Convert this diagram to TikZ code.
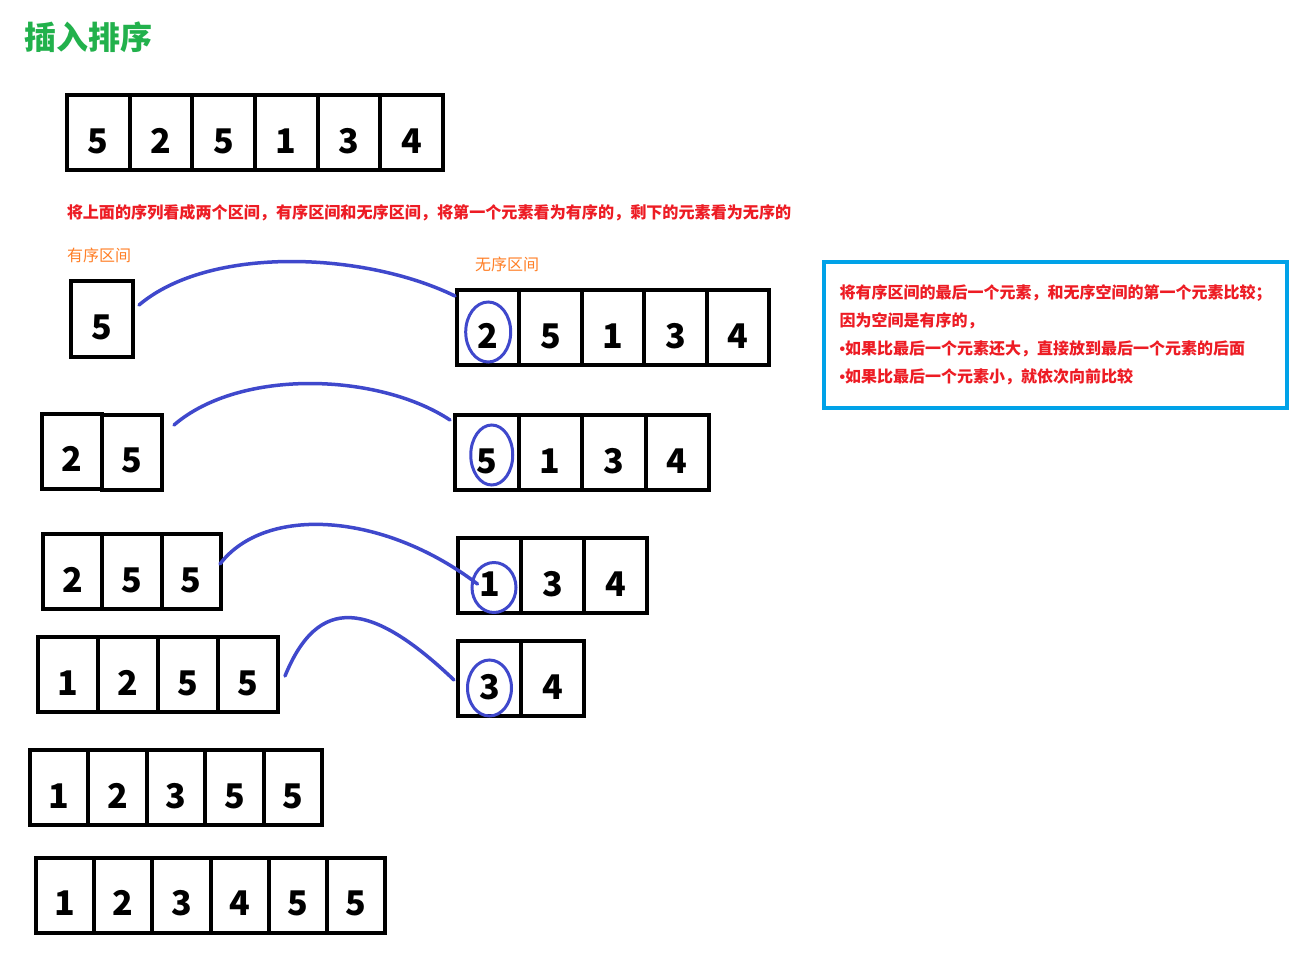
\documentclass[tikz,border=0pt]{standalone}
\usepackage{fontspec}
\newfontfamily\cjk{Noto Sans CJK SC}
\newfontfamily\latinsans{Liberation Sans}
\usetikzlibrary{shapes.geometric}
\definecolor{titlegreen}{RGB}{34,177,76}
\definecolor{notered}{RGB}{237,28,36}
\definecolor{labelorange}{RGB}{255,127,39}
\definecolor{boxblue}{RGB}{0,162,232}
\definecolor{markblue}{RGB}{63,72,204}
\newcommand{\dotmark}{{\latinsans\bfseries •}}
\begin{document}
\begin{tikzpicture}[x=1pt, y=-1pt,
  cell/.style={rectangle, draw, line width=4pt, minimum width=62pt, minimum height=75pt, inner sep=0pt, text height=41pt, text depth=0pt, font=\cjk\bfseries\fontsize{34}{34}\selectfont},
  ring/.style={ellipse, draw=markblue, line width=3pt, inner sep=0pt, minimum width=44pt, minimum height=58pt},
  link/.style={markblue, line width=3.5pt, line cap=round},
  title/.style={text=titlegreen, font=\cjk\bfseries\fontsize{32}{32}\selectfont, inner sep=0pt},
  remark/.style={text=notered, font=\cjk\bfseries\fontsize{16.1}{16.1}\selectfont, inner sep=0pt},
  tag/.style={text=labelorange, font=\cjk\fontsize{16}{16}\selectfont, inner sep=0pt},
  note/.style={rectangle, draw=boxblue, line width=4pt, minimum width=463pt, minimum height=146pt, text width=432pt, align=left, text=notered, font=\cjk\bfseries\fontsize{16}{28}\selectfont}
]
\fill[white] (0,0) rectangle (1307,978);
\useasboundingbox (0,0) rectangle (1307,978);

% Title and texts
\node[title, anchor=west] (title) at (24,37) {插入排序};
\node[remark] (intro) at (429,213) {将上面的序列看成两个区间，有序区间和无序区间，将第一个元素看为有序的，剩下的元素看为无序的};
\node[tag] (sortedtag) at (99,255) {有序区间};
\node[tag] (unsortedtag) at (507,264) {无序区间};
\node[note] (rule) at (1055.5,335) {将有序区间的最后一个元素，和无序空间的第一个元素比较；\\因为空间是有序的，\\\dotmark 如果比最后一个元素还大，直接放到最后一个元素的后面\\\dotmark 如果比最后一个元素小，就依次向前比较};

% Input sequence
\node[cell, minimum width=62.7pt] (a1) at (98.3,132.5) {5};
\node[cell, minimum width=62.7pt] (a2) at (161,132.5) {2};
\node[cell, minimum width=62.7pt] (a3) at (223.7,132.5) {5};
\node[cell, minimum width=62.7pt] (a4) at (286.3,132.5) {1};
\node[cell, minimum width=62.7pt] (a5) at (349,132.5) {3};
\node[cell, minimum width=62.7pt] (a6) at (411.7,132.5) {4};

% Step 1
\node[cell, minimum height=76pt] (s1a) at (102,319) {5};
\node[cell, minimum width=62.4pt] (u1a) at (488.2,327.5) {2};
\node[cell, minimum width=62.4pt] (u1b) at (550.6,327.5) {5};
\node[cell, minimum width=62.4pt] (u1c) at (613,327.5) {1};
\node[cell, minimum width=62.4pt] (u1d) at (675.4,327.5) {3};
\node[cell, minimum width=62.4pt] (u1e) at (737.8,327.5) {4};
\node[ring, minimum width=45pt, minimum height=60pt, yshift=-4.5pt] (c1) at (u1a) {};

% Step 2
\node[cell, minimum width=60pt] (s2a) at (72,451) {2};
\node[cell, minimum width=60pt] (s2b) at (132,452) {5};
\node[cell, minimum width=63.5pt] (u2a) at (486.75,452.5) {5};
\node[cell, minimum width=63.5pt] (u2b) at (550.25,452.5) {1};
\node[cell, minimum width=63.5pt] (u2c) at (613.75,452.5) {3};
\node[cell, minimum width=63.5pt] (u2d) at (677.25,452.5) {4};
\node[ring, minimum width=42pt, minimum height=60pt, xshift=5pt, yshift=-2.5pt] (c2) at (u2a) {};

% Step 3
\node[cell, minimum width=59.3pt] (s3a) at (72.7,571.5) {2};
\node[cell, minimum width=59.3pt] (s3b) at (132,571.5) {5};
\node[cell, minimum width=59.3pt] (s3c) at (191.3,571.5) {5};
\node[cell, minimum width=63pt] (u3a) at (489.5,575.5) {1};
\node[cell, minimum width=63pt] (u3b) at (552.5,575.5) {3};
\node[cell, minimum width=63pt] (u3c) at (615.5,575.5) {4};
\node[ring, minimum width=44pt, minimum height=50pt, xshift=4.5pt, yshift=-12pt] (c3) at (u3a) {};

% Step 4
\node[cell, minimum width=60pt] (s4a) at (68,674.5) {1};
\node[cell, minimum width=60pt] (s4b) at (128,674.5) {2};
\node[cell, minimum width=60pt] (s4c) at (188,674.5) {5};
\node[cell, minimum width=60pt] (s4d) at (248,674.5) {5};
\node[cell, minimum width=63pt] (u4a) at (489.5,678.5) {3};
\node[cell, minimum width=63pt] (u4b) at (552.5,678.5) {4};
\node[ring, minimum width=44pt, minimum height=56pt, yshift=-9.5pt] (c4) at (u4a) {};

% Step 5
\node[cell, minimum width=58.4pt] (s5a) at (59.2,787.5) {1};
\node[cell, minimum width=58.4pt] (s5b) at (117.6,787.5) {2};
\node[cell, minimum width=58.4pt] (s5c) at (176,787.5) {3};
\node[cell, minimum width=58.4pt] (s5d) at (234.4,787.5) {5};
\node[cell, minimum width=58.4pt] (s5e) at (292.8,787.5) {5};

% Result
\node[cell, minimum width=58.2pt] (s6a) at (65.1,895) {1};
\node[cell, minimum width=58.2pt] (s6b) at (123.3,895) {2};
\node[cell, minimum width=58.2pt] (s6c) at (181.5,895) {3};
\node[cell, minimum width=58.2pt] (s6d) at (239.7,895) {4};
\node[cell, minimum width=58.2pt] (s6e) at (297.9,895) {5};
\node[cell, minimum width=58.2pt] (s6f) at (356.1,895) {5};

% Curves
\draw[link] ([xshift=4pt,yshift=14pt]s1a.east) .. controls (210,245) and (365,252) .. ([yshift=-8pt]u1a.north west);
\draw[link] ([xshift=10pt,yshift=27pt]s2b.east) .. controls (240,368) and (379,373) .. ([xshift=-3pt,yshift=-7pt]u2a.north west);
\draw[link] ([xshift=-3pt,yshift=7.5pt]s3c.east) .. controls (265,505) and (383,512) .. ([xshift=-12pt,yshift=-8.5pt]u3a.center);
\draw[link] ([xshift=5pt,yshift=-1.5pt]s4d.east) .. controls (318,595) and (370,600) .. ([xshift=-2pt,yshift=-1.5pt]u4a.west);
\end{tikzpicture}
\end{document}
